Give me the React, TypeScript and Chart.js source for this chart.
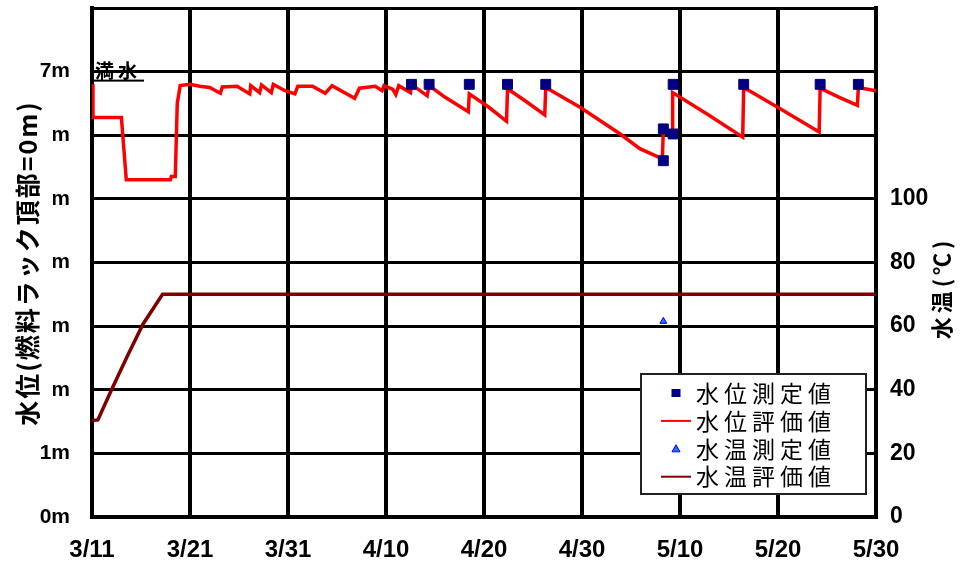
import { useEffect, useRef } from 'react';
import { Chart, registerables } from 'chart.js';

Chart.register(...registerables);

// x-axis: days since 3/11, tick every 10 days
const dateLabels = ['3/11', '3/21', '3/31', '4/10', '4/20', '4/30', '5/10', '5/20', '5/30'];

// 水位評価値 (m)
const levelEvalDay = [
  0, 0.1, 3.0, 3.5, 8.0, 8.1, 8.5, 8.7, 9.0,
  10.0, 11.0, 12.0, 13.1, 13.3, 14.8, 16.1, 16.2, 17.1, 17.3,
  18.3, 18.5, 19.7, 20.7, 21.0, 22.5, 23.8, 24.5, 26.8, 27.3,
  28.9, 29.6, 29.8, 30.7, 31.0, 31.3,
  32.5, 32.6, 34.2, 34.4, 36.0, 38.4, 38.5, 40.5, 42.3, 42.4,
  44.3, 46.2, 46.3, 49.8, 53.9, 55.9, 58.2, 58.3, 59.2, 59.25,
  62.8, 66.4, 66.5, 70.4, 74.2, 74.3, 76.2, 78.1, 78.2, 80,
];
const levelEvalM = [
  6.8, 6.28, 6.28, 5.3, 5.3, 5.35, 5.35, 6.5, 6.78,
  6.8, 6.77, 6.75, 6.66, 6.76, 6.77, 6.65, 6.78, 6.67, 6.79,
  6.67, 6.8, 6.7, 6.65, 6.77, 6.77, 6.66, 6.78, 6.58, 6.74,
  6.77, 6.7, 6.78, 6.72, 6.64, 6.78,
  6.67, 6.8, 6.62, 6.78, 6.6, 6.37, 6.65, 6.44, 6.22, 6.73,
  6.53, 6.32, 6.75, 6.44, 6.02, 5.79, 5.63, 6.08, 6.02, 6.67,
  6.33, 5.97, 6.75, 6.4, 6.05, 6.74, 6.6, 6.47, 6.75, 6.7,
];

// 水位測定値 (m)
const levelMeasDay = [32.6, 34.4, 38.5, 42.4, 46.3, 58.3, 58.3, 59.3, 59.3, 66.5, 74.3, 78.2];
const levelMeasM = [6.8, 6.8, 6.8, 6.8, 6.8, 6.1, 5.6, 6.8, 6.02, 6.8, 6.8, 6.8];

// 水温評価値 (℃)
const tempEvalDay = [0, 0.6, 2.1, 3.6, 5.2, 7.2, 80];
const tempEvalC = [30.3, 30.5, 40.7, 50.5, 60.6, 70, 70];

// 水温測定値 (℃)
const tempMeasDay = [58.3];
const tempMeasC = [61.5];

const fullLabel = '満水';
const fullLabelValue = 7;
const leftTitle = '水位(燃料ラック頂部=0m)';
const rightTitle = '水温(℃)';

const zip = (xs: number[], ys: number[]) => xs.map((x, i) => ({ x, y: ys[i] }));

const JP = '"Noto Sans CJK JP", "Noto Sans CJK SC", sans-serif';
const NUM = '"Liberation Sans", Arial, sans-serif';

const overlayPlugin = {
  id: 'overlay',
  afterDraw(chart: any) {
    const ctx = chart.ctx as CanvasRenderingContext2D;
    const { left, right, bottom } = chart.chartArea;
    const yScale = chart.scales.y;
    ctx.save();

    // 満水 label
    const y7 = yScale.getPixelForValue(fullLabelValue);
    ctx.fillStyle = '#000';
    ctx.font = `bold 19px ${JP}`;
    (ctx as any).letterSpacing = '4px';
    ctx.textAlign = 'left';
    ctx.textBaseline = 'alphabetic';
    ctx.fillText(fullLabel, left + 3, y7 + 6);
    ctx.fillRect(left + 1, y7 + 8, 51, 2);

    // legend box
    const bw = 225;
    const bh = 120;
    const bx = right - 10 - bw;
    const by = bottom - 23 - bh;
    ctx.fillStyle = '#fff';
    ctx.fillRect(bx, by, bw, bh);
    ctx.strokeStyle = '#222';
    ctx.lineWidth = 2;
    ctx.strokeRect(bx, by, bw, bh);

    const ds = chart.data.datasets;
    ctx.font = `23px ${JP}`;
    (ctx as any).letterSpacing = '5px';
    ctx.textBaseline = 'middle';
    for (let i = 0; i < ds.length; i++) {
      const d = ds[i];
      const cy = by + 19 + i * 27.9;
      const cx = bx + 35;
      if (d.showLine === false) {
        ctx.fillStyle = d.backgroundColor;
        ctx.strokeStyle = d.borderColor;
        if (d.pointStyle === 'rect') {
          ctx.fillRect(cx - 4.5, cy - 4, 9, 8);
        } else {
          ctx.beginPath();
          ctx.moveTo(cx, cy - 4);
          ctx.lineTo(cx + 4, cy + 3);
          ctx.lineTo(cx - 4, cy + 3);
          ctx.closePath();
          ctx.fill();
          ctx.lineWidth = 1;
          ctx.stroke();
        }
      } else {
        ctx.strokeStyle = d.borderColor;
        ctx.lineWidth = 2;
        ctx.beginPath();
        ctx.moveTo(cx - 15, cy);
        ctx.lineTo(cx + 15, cy);
        ctx.stroke();
      }
      ctx.fillStyle = '#000';
      ctx.fillText(d.label, bx + 55, cy);
    }

    // left axis title
    ctx.save();
    ctx.fillStyle = '#fff';
    ctx.fillRect(9, 100, 44, 326);
    ctx.translate(27, 263);
    ctx.rotate(-Math.PI / 2);
    ctx.fillStyle = '#000';
    ctx.font = `bold 25px ${JP}`;
    (ctx as any).letterSpacing = '2px';
    ctx.textAlign = 'center';
    ctx.textBaseline = 'middle';
    ctx.fillText(leftTitle, 0, 0);
    ctx.restore();

    // right axis title
    ctx.save();
    ctx.translate(942, 288);
    ctx.rotate(-Math.PI / 2);
    ctx.fillStyle = '#000';
    ctx.font = `bold 22px ${JP}`;
    (ctx as any).letterSpacing = '4px';
    ctx.textAlign = 'center';
    ctx.textBaseline = 'middle';
    ctx.fillText(rightTitle, 0, 0);
    ctx.restore();

    ctx.restore();
  },
};

const fitY = (s: any) => {
  s.width = 92;
  s.paddingTop = 0;
  s.paddingBottom = 0;
};

export default function App() {
  const ref = useRef<HTMLCanvasElement>(null);
  useEffect(() => {
    const chart = new Chart(ref.current as HTMLCanvasElement, {
      type: 'line',
      data: {
        datasets: [
          {
            label: '水位測定値',
            data: zip(levelMeasDay, levelMeasM),
            showLine: false,
            pointStyle: 'rect',
            pointRadius: 7,
            pointBorderWidth: 1,
            backgroundColor: '#000080',
            borderColor: '#000080',
            yAxisID: 'y',
          },
          {
            label: '水位評価値',
            data: zip(levelEvalDay, levelEvalM),
            borderColor: '#ff0000',
            backgroundColor: '#ff0000',
            borderWidth: 3.5,
            pointRadius: 0,
            tension: 0,
            yAxisID: 'y',
          },
          {
            label: '水温測定値',
            data: zip(tempMeasDay, tempMeasC),
            showLine: false,
            pointStyle: 'triangle',
            pointRadius: 4,
            pointBorderWidth: 1,
            backgroundColor: '#2a6cff',
            borderColor: '#0000ff',
            yAxisID: 'y2',
          },
          {
            label: '水温評価値',
            data: zip(tempEvalDay, tempEvalC),
            borderColor: '#800000',
            backgroundColor: '#800000',
            borderWidth: 3.5,
            pointRadius: 0,
            tension: 0,
            yAxisID: 'y2',
          },
        ] as any,
      },
      options: {
        animation: false,
        responsive: false,
        layout: { padding: { top: 8, left: 0, right: 0, bottom: 0 } },
        plugins: { legend: { display: false }, tooltip: { enabled: false } },
        scales: {
          x: {
            type: 'linear',
            min: 0,
            max: 80,
            ticks: {
              stepSize: 10,
              autoSkip: false,
              maxRotation: 0,
              padding: 19,
              color: '#000',
              font: { family: NUM, weight: 'bold', size: 24 },
              callback: (v: any) => dateLabels[Math.round(Number(v) / 10)] ?? '',
            },
            grid: { color: '#000', lineWidth: 4, drawTicks: false },
            border: { color: '#000', width: 4 },
            afterFit: (s: any) => {
              s.height = 49;
              s.paddingLeft = 0;
              s.paddingRight = 0;
            },
          },
          y: {
            position: 'left',
            min: 0,
            max: 8,
            ticks: {
              stepSize: 1,
              padding: 22,
              color: '#000',
              font: { family: NUM, weight: 'bold', size: 21 },
              callback: (v: any) => (Number(v) <= 7 ? `${v}m` : ''),
            },
            grid: { color: '#000', lineWidth: 3, drawTicks: false },
            border: { color: '#000', width: 4 },
            afterFit: fitY,
          },
          y2: {
            position: 'right',
            min: 0,
            max: 160,
            ticks: {
              stepSize: 20,
              padding: 14,
              color: '#000',
              font: { family: NUM, weight: 'bold', size: 23 },
              callback: (v: any) => (Number(v) <= 100 ? String(v) : ''),
            },
            grid: { display: false, drawTicks: false },
            border: { color: '#000', width: 4 },
            afterFit: fitY,
          },
        },
      } as any,
      plugins: [overlayPlugin],
    });
    return () => chart.destroy();
  }, []);
  return (
    <div style={{ position: 'absolute', left: 0, top: 0, width: 968, height: 566, background: '#fff' }}>
      <canvas ref={ref} width={968} height={566} style={{ display: 'block' }} />
    </div>
  );
}
